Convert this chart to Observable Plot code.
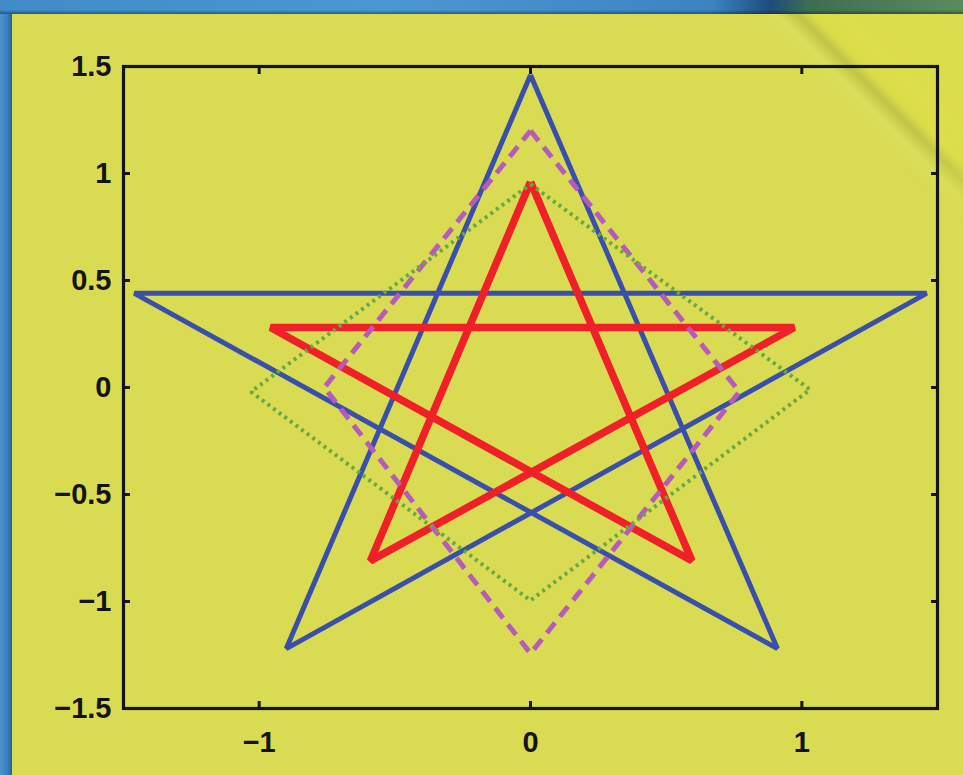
<!DOCTYPE html>
<html>
<head>
<meta charset="utf-8">
<script src="https://cdn.jsdelivr.net/npm/d3@7"></script>
<script src="https://cdn.jsdelivr.net/npm/@observablehq/plot@0.6"></script>
<style>
  html, body { margin: 0; padding: 0; overflow: hidden; background: #d9dc52; }
  #page { position: relative; width: 963px; height: 775px; background: #d9dc52; }
  #page > svg { position: absolute; left: 0; top: 0; z-index: 2; }
  .edge-left { position: absolute; left: 0; top: 0; width: 12px; height: 775px; z-index: 3;
    background: linear-gradient(to right, #4a93cc 0%, #3a82bf 60%, #275f93 100%); }
  .edge-top { position: absolute; left: 0; top: 0; width: 963px; height: 14px; z-index: 3;
    background: linear-gradient(to right, #3f8cc8 0%, #4a98d2 40%, #3b84c2 74%, #1d4d7a 80%, #3e6e52 84%, #5b8b5c 100%); }
  .edge-top::after { content: ""; position: absolute; left: 0; right: 0; bottom: 0; height: 4px;
    background: linear-gradient(to bottom, rgba(0,20,40,0), rgba(0,20,40,0.45)); }
  .sheen { position: absolute; left: 760px; top: 14px; width: 203px; height: 240px; z-index: 1;
    background: linear-gradient(45deg, rgba(255,255,200,0) 0%, rgba(255,255,200,0) 52%, rgba(255,255,190,0.08) 58%,
      rgba(70,70,10,0.16) 62.5%, rgba(236,228,50,0.22) 66%, rgba(232,226,55,0.12) 100%);
    -webkit-mask-image: linear-gradient(to bottom, #000 50%, transparent 100%);
    mask-image: linear-gradient(to bottom, #000 50%, transparent 100%); }
</style>
</head>
<body>
<div id="page">
  <div class="edge-left"></div>
  <div class="edge-top"></div>
  <div class="sheen"></div>
</div>
<script>
// Large five-pointed star (blue), drawn as one closed path
const bigStarX = [0, -0.90, 1.46, -1.46, 0.91, 0];
const bigStarY = [1.46, -1.22, 0.44, 0.44, -1.22, 1.46];

// Small five-pointed star (red)
const smallStarX = [0, -0.59, 0.972, -0.958, 0.595, 0];
const smallStarY = [0.96, -0.81, 0.28, 0.28, -0.81, 0.96];

// Tall diamond (magenta, dashed)
const tallDiamondX = [0, 0.77, 0, -0.76, 0];
const tallDiamondY = [1.20, -0.02, -1.243, 0.0, 1.20];

// Unit diamond (green, dotted)
const unitDiamondX = [0, 1.03, 0, -1.03, 0];
const unitDiamondY = [0.95, -0.01, -0.995, -0.02, 0.95];

// Axis ticks and their labels
const xTicks = [-1, 0, 1];
const xTickLabels = ["\u22121", "0", "1"];
const yTicks = [-1.5, -1, -0.5, 0, 0.5, 1, 1.5];
const yTickLabels = ["\u22121.5", "\u22121", "\u22120.5", "0", "0.5", "1", "1.5"];

const toPoints = (xs, ys) => xs.map((x, i) => ({x, y: ys[i]}));

const labelFont = {fontSize: 29, fontWeight: "bold", label: null};
const tickOnly = {tickSize: -7, strokeWidth: 3, tickFormat: () => "", label: null};

const chart = Plot.plot({
  width: 963,
  height: 775,
  marginLeft: 123,
  marginRight: 26,
  marginTop: 66,
  marginBottom: 67,
  x: {domain: [-1.5, 1.5], label: null},
  y: {domain: [-1.5, 1.5], label: null},
  style: {
    background: "transparent",
    color: "#141414",
    fontSize: "29px",
    fontFamily: "'Liberation Sans', Arial, Helvetica, sans-serif"
  },
  marks: [
    Plot.line(toPoints(bigStarX, bigStarY), {
      x: "x", y: "y", stroke: "#3a4fab", strokeWidth: 5,
      strokeLinejoin: "miter", strokeMiterlimit: 2, strokeLinecap: "butt"
    }),
    Plot.line(toPoints(smallStarX, smallStarY), {
      x: "x", y: "y", stroke: "#ef2027", strokeWidth: 7.5,
      strokeLinejoin: "miter", strokeMiterlimit: 1.5, strokeLinecap: "butt"
    }),
    Plot.line(toPoints(tallDiamondX, tallDiamondY), {
      x: "x", y: "y", stroke: "#b65bbb", strokeWidth: 5,
      strokeDasharray: "13,8", strokeLinecap: "butt", strokeLinejoin: "miter"
    }),
    Plot.line(toPoints(unitDiamondX, unitDiamondY), {
      x: "x", y: "y", stroke: "#6aa844", strokeWidth: 4,
      strokeDasharray: "3,4", strokeLinecap: "butt", strokeLinejoin: "miter"
    }),
    Plot.frame({stroke: "#141414", strokeWidth: 3.2}),
    // inward tick marks on all four sides
    Plot.axisX(xTicks, {anchor: "bottom", ...tickOnly}),
    Plot.axisX(xTicks, {anchor: "top", ...tickOnly}),
    Plot.axisY(yTicks, {anchor: "left", ...tickOnly}),
    Plot.axisY(yTicks, {anchor: "right", ...tickOnly}),
    // tick labels
    Plot.axisX(xTicks, {anchor: "bottom", tickSize: 0, tickPadding: 23,
      tickFormat: (d, i) => xTickLabels[i], ...labelFont}),
    Plot.axisY(yTicks, {anchor: "left", tickSize: 0, tickPadding: 12,
      tickFormat: (d, i) => yTickLabels[i], ...labelFont})
  ]
});

document.getElementById("page").appendChild(chart);
</script>
</body>
</html>
